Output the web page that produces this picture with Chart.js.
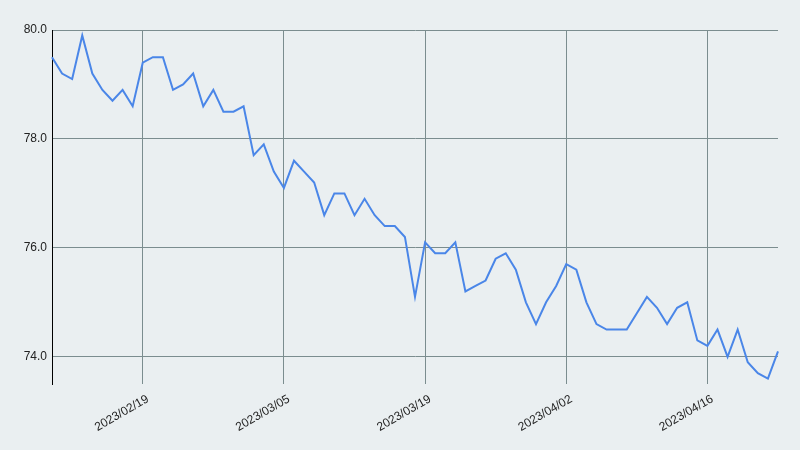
<!DOCTYPE html>
<html>
<head>
<meta charset="utf-8">
<script src="https://cdn.jsdelivr.net/npm/chart.js@4/dist/chart.umd.min.js"></script>
<style>
html,body{margin:0;padding:0;background:#eaeff1;}
#wrap{width:800px;height:450px;position:relative;}
</style>
</head>
<body>
<div id="wrap"><canvas id="c" width="800" height="450"></canvas></div>
<script>
const dates = [
"2023/02/10","2023/02/11","2023/02/12","2023/02/13","2023/02/14","2023/02/15","2023/02/16","2023/02/17","2023/02/18","2023/02/19",
"2023/02/20","2023/02/21","2023/02/22","2023/02/23","2023/02/24","2023/02/25","2023/02/26","2023/02/27","2023/02/28","2023/03/01",
"2023/03/02","2023/03/03","2023/03/04","2023/03/05","2023/03/06","2023/03/07","2023/03/08","2023/03/09","2023/03/10","2023/03/11",
"2023/03/12","2023/03/13","2023/03/14","2023/03/15","2023/03/16","2023/03/17","2023/03/18","2023/03/19","2023/03/20","2023/03/21",
"2023/03/22","2023/03/23","2023/03/24","2023/03/25","2023/03/26","2023/03/27","2023/03/28","2023/03/29","2023/03/30","2023/03/31",
"2023/04/01","2023/04/02","2023/04/03","2023/04/04","2023/04/05","2023/04/06","2023/04/07","2023/04/08","2023/04/09","2023/04/10",
"2023/04/11","2023/04/12","2023/04/13","2023/04/14","2023/04/15","2023/04/16","2023/04/17","2023/04/18","2023/04/19","2023/04/20",
"2023/04/21","2023/04/22","2023/04/23"
];
const values = [
79.5,79.2,79.1,79.9,79.2,78.9,78.7,78.9,78.6,79.4,
79.5,79.5,78.9,79.0,79.2,78.6,78.9,78.5,78.5,78.6,
77.7,77.9,77.4,77.1,77.6,77.4,77.2,76.6,77.0,77.0,
76.6,76.9,76.6,76.4,76.4,76.2,75.1,76.1,75.9,75.9,
76.1,75.2,75.3,75.4,75.8,75.9,75.6,75.0,74.6,75.0,
75.3,75.7,75.6,75.0,74.6,74.5,74.5,74.5,74.8,75.1,
74.9,74.6,74.9,75.0,74.3,74.2,74.5,74.0,74.5,73.9,
73.7,73.6,74.1
];
const xTickLabels = ["2023/02/19","2023/03/05","2023/03/19","2023/04/02","2023/04/16"];
const yTicks = [74, 76, 78, 80];

const bgPlugin = {
  id: 'bg',
  beforeDraw(chart) {
    const ctx = chart.ctx;
    ctx.save();
    ctx.fillStyle = '#eaeff1';
    ctx.fillRect(0, 0, chart.width, chart.height);
    ctx.restore();
  }
};

new Chart(document.getElementById('c'), {
  type: 'line',
  data: {
    labels: dates,
    datasets: [{
      data: values,
      borderColor: '#4a86e8',
      borderWidth: 2,
      pointRadius: 0,
      tension: 0,
      fill: false
    }]
  },
  options: {
    responsive: false,
    animation: false,
    layout: { padding: { top: 30, right: 22, left: 0, bottom: 0 } },
    plugins: { legend: { display: false }, tooltip: { enabled: false } },
    scales: {
      x: {
        type: 'category',
        offset: false,
        border: { display: false },
        grid: {
          color: '#7b8d8f',
          lineWidth: 1,
          drawTicks: false
        },
        ticks: {
          autoSkip: false,
          maxRotation: 30,
          minRotation: 30,
          padding: 8,
          labelOffset: 5,
          color: '#222222',
          font: { family: 'Liberation Sans, Arial, sans-serif', size: 12 },
          callback: function(val, idx) {
            const lab = this.getLabelForValue(val);
            return xTickLabels.includes(lab) ? lab : null;
          }
        },
        afterFit(s) { s.height = 66; }
      },
      y: {
        min: 73.5,
        max: 80,
        border: { display: true, color: '#000000', width: 1 },
        grid: {
          color: '#7b8d8f',
          lineWidth: 1,
          drawTicks: false
        },
        afterBuildTicks(axis) {
          axis.ticks = yTicks.map(v => ({ value: v }));
        },
        ticks: {
          padding: 5,
          color: '#222222',
          font: { family: 'Liberation Sans, Arial, sans-serif', size: 12 },
          callback: v => Number(v).toFixed(1)
        },
        afterFit(s) { s.width = 52; }
      }
    }
  },
  plugins: [bgPlugin]
});
</script>
</body>
</html>
